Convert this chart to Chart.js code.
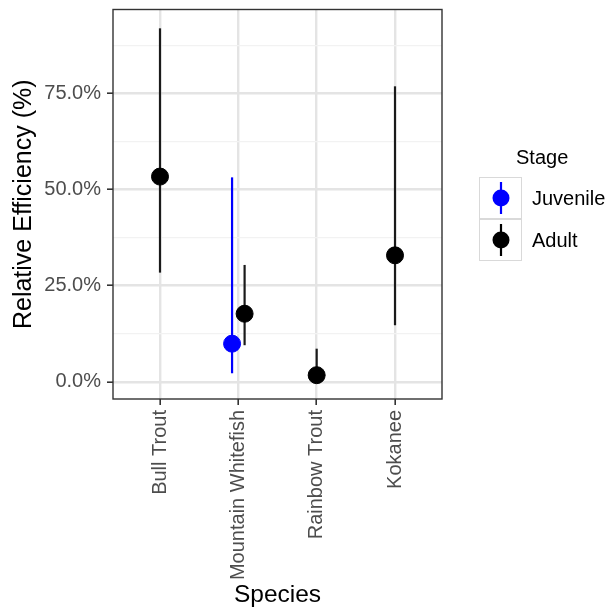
<!DOCTYPE html>
<html>
<head>
<meta charset="utf-8">
<script src="https://cdn.jsdelivr.net/npm/chart.js@4/dist/chart.umd.min.js"></script>
<style>
  html, body { margin: 0; padding: 0; background: #fff; }
  #wrap { width: 605px; height: 610px; }
</style>
</head>
<body>
<div id="wrap"><canvas id="graf" width="605" height="610"></canvas></div>
<script>
const species = ['Bull Trout', 'Mountain Whitefish', 'Rainbow Trout', 'Kokanee'];
const stages = ['Juvenile', 'Adult'];

// relative efficiency (%) and interval ends
const adultEff = [53.4, 17.7, 1.7, 32.9];
const adultLo = [28.4, 9.5, 0.0, 14.7];
const adultHi = [92.0, 30.4, 8.6, 76.9];

const juvEff = [null, 9.9, null, null];
const juvLo = [null, 2.2, null, null];
const juvHi = [null, 53.2, null, null];

const yTicks = [0, 12.5, 25, 37.5, 50, 62.5, 75, 87.5];
const yLabels = ['0.0%', '', '25.0%', '', '50.0%', '', '75.0%', ''];

const stageColors = ['#0000ff', '#000000'];
const dodge = 0.08;

// a species only gets dodged when both stages are there
function xPos(i, stage) {
    const both = juvEff[i] != null && adultEff[i] != null;
    if (!both) return i + 1;
    return stage == 0 ? i + 1 - dodge : i + 1 + dodge;
}

let juvPts = [];
let adultPts = [];
species.forEach((s, i) => {
    if (juvEff[i] != null) juvPts.push({x: xPos(i, 0), y: juvEff[i], lo: juvLo[i], hi: juvHi[i]});
    if (adultEff[i] != null) adultPts.push({x: xPos(i, 1), y: adultEff[i], lo: adultLo[i], hi: adultHi[i]});
});

const font = "'Liberation Sans', Arial, sans-serif";

const errorBars = {
    id: 'errorBars',
    beforeDatasetsDraw(chart) {
        const ctx = chart.ctx;
        const xs = chart.scales.x, ys = chart.scales.y;
        ctx.save();
        chart.data.datasets.forEach(ds => {
            ctx.strokeStyle = ds.backgroundColor == '#000000' ? '#1a1a1a' : ds.backgroundColor;
            ctx.lineWidth = 2.2;
            ds.data.forEach(p => {
                const px = xs.getPixelForValue(p.x);
                ctx.beginPath();
                ctx.moveTo(px, ys.getPixelForValue(p.lo));
                ctx.lineTo(px, ys.getPixelForValue(p.hi));
                ctx.stroke();
            });
        });
        ctx.restore();
    },
    afterDraw(chart) {
        const ctx = chart.ctx;
        const a = chart.chartArea;
        ctx.save();
        // panel border
        ctx.strokeStyle = '#333333';
        ctx.lineWidth = 1.4;
        ctx.strokeRect(a.left, a.top, a.right - a.left, a.bottom - a.top);

        // legend
        ctx.fillStyle = '#000';
        ctx.font = '20px ' + font;
        ctx.textAlign = 'left';
        ctx.textBaseline = 'middle';
        ctx.fillText('Stage', 516, 158);
        stages.forEach((st, k) => {
            const top = 177 + k * 42;
            ctx.strokeStyle = '#d9d9d9';
            ctx.lineWidth = 1;
            ctx.strokeRect(479.5, top + 0.5, 42, 41);
            const cx = 501, cy = top + 21;
            ctx.strokeStyle = stageColors[k];
            ctx.lineWidth = 2.2;
            ctx.beginPath();
            ctx.moveTo(cx, cy - 16);
            ctx.lineTo(cx, cy + 16);
            ctx.stroke();
            ctx.fillStyle = stageColors[k];
            ctx.beginPath();
            ctx.arc(cx, cy, 8.5, 0, Math.PI * 2);
            ctx.fill();
            ctx.fillStyle = '#000';
            ctx.fillText(st, 532, cy + 1);
        });
        ctx.restore();
    }
};

new Chart('graf', {
    type: 'scatter',
    data: {
        datasets: [{
            label: 'Juvenile',
            data: juvPts,
            backgroundColor: stageColors[0],
            borderColor: stageColors[0],
            pointRadius: 8.5,
            pointHoverRadius: 8.5
        }, {
            label: 'Adult',
            data: adultPts,
            backgroundColor: stageColors[1],
            borderColor: stageColors[1],
            pointRadius: 8.5,
            pointHoverRadius: 8.5
        }]
    },
    options: {
        responsive: false,
        animation: false,
        layout: {padding: {left: 0, right: 163, top: 7, bottom: 0}},
        plugins: {
            legend: {display: false},
            tooltip: {enabled: false}
        },
        scales: {
            x: {
                type: 'linear',
                min: 0.4,
                max: 4.6,
                afterBuildTicks: axis => { axis.ticks = species.map((s, i) => ({value: i + 1})); },
                afterFit: axis => { axis.height = 211; axis.paddingLeft = 0; axis.paddingRight = 0; },
                ticks: {
                    autoSkip: false,
                    minRotation: 90,
                    maxRotation: 90,
                    padding: 5,
                    color: '#4d4d4d',
                    font: {family: font, size: 20},
                    callback: (v) => species[Math.round(v) - 1]
                },
                grid: {
                    color: '#e4e4e4',
                    lineWidth: 2.4,
                    tickLength: 6,
                    tickColor: '#333333',
                    tickWidth: 1.6
                },
                border: {display: false},
                title: {
                    display: true,
                    text: 'Species',
                    color: '#000',
                    font: {family: font, size: 24.5},
                    padding: {top: 0, bottom: 0}
                }
            },
            y: {
                min: -4.5,
                max: 96.9,
                afterBuildTicks: axis => { axis.ticks = yTicks.map(v => ({value: v})); },
                afterFit: axis => { axis.width = 113; axis.paddingTop = 0; axis.paddingBottom = 0; },
                ticks: {
                    autoSkip: false,
                    padding: 6,
                    color: '#4d4d4d',
                    font: {family: font, size: 20},
                    callback: (v, i) => yLabels[i]
                },
                grid: {
                    color: ctx => yLabels[ctx.index] ? '#e4e4e4' : '#f2f2f2',
                    lineWidth: ctx => yLabels[ctx.index] ? 2.4 : 1.3,
                    tickLength: 6,
                    tickColor: ctx => yLabels[ctx.index] ? '#333333' : 'rgba(0,0,0,0)',
                    tickWidth: 1.6
                },
                border: {display: false},
                title: {
                    display: true,
                    text: 'Relative Efficiency (%)',
                    color: '#000',
                    font: {family: font, size: 25},
                    padding: {top: 9, bottom: 0}
                }
            }
        }
    },
    plugins: [errorBars]
});
</script>
</body>
</html>
